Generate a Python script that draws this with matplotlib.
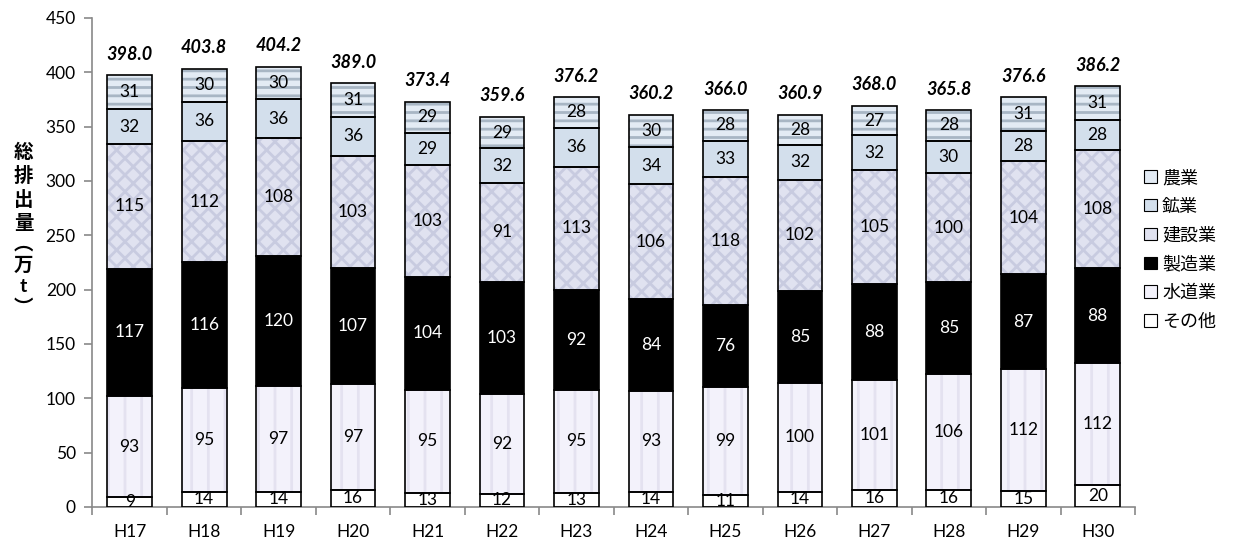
import numpy as np
import matplotlib
matplotlib.use("Agg")
import matplotlib.pyplot as plt
from matplotlib.patches import Patch

# 年度ごとの総排出量の内訳（万t）
years = ["H17", "H18", "H19", "H20", "H21", "H22", "H23",
         "H24", "H25", "H26", "H27", "H28", "H29", "H30"]
sonota = [9, 14, 14, 16, 13, 12, 13, 14, 11, 14, 16, 16, 15, 20]
suido = [93, 95, 97, 97, 95, 92, 95, 93, 99, 100, 101, 106, 112, 112]
seizo = [117, 116, 120, 107, 104, 103, 92, 84, 76, 85, 88, 85, 87, 88]
kensetsu = [115, 112, 108, 103, 103, 91, 113, 106, 118, 102, 105, 100, 104, 108]
kogyo = [32, 36, 36, 36, 29, 32, 36, 34, 33, 32, 32, 30, 28, 28]
nogyo = [31, 30, 30, 31, 29, 29, 28, 30, 28, 28, 27, 28, 31, 31]
totals = [398.0, 403.8, 404.2, 389.0, 373.4, 359.6, 376.2,
          360.2, 366.0, 360.9, 368.0, 365.8, 376.6, 386.2]

plt.rcParams["font.family"] = ["Lato", "Noto Sans CJK JP", "DejaVu Sans"]
plt.rcParams["hatch.linewidth"] = 2.0


def main():
    fig = plt.figure(figsize=(12.33, 5.41), dpi=100)
    ax = fig.add_axes([0.075, 0.063, 0.8455, 0.904])

    # (label, values, face, hatch, hatch colour, text colour)
    series = [
        ("その他", sonota, "white", None, "white", "black"),
        ("水道業", suido, "#f3f2fb", "|", "#e4e2f0", "black"),
        ("製造業", seizo, "black", None, "black", "white"),
        ("建設業", kensetsu, "#e0e2f0", "xx", "#c8cbe0", "black"),
        ("鉱業", kogyo, "#d3dfec", None, "#d3dfec", "black"),
        ("農業", nogyo, "#e3ebf4", "--", "#a8b6c4", "black"),
    ]

    x = np.arange(len(years))
    width = 0.6
    bottom = np.zeros(len(years))
    handles = []
    for label, vals, face, hatch, hcol, tcol in series:
        vals = np.array(vals, dtype=float)
        ax.bar(x, vals, width, bottom=bottom, color=face, hatch=hatch,
               edgecolor=hcol, linewidth=0, zorder=2)
        ax.bar(x, vals, width, bottom=bottom, fill=False,
               edgecolor="black", linewidth=1.2, zorder=3)
        for xi, b, v in zip(x, bottom, vals):
            ax.text(xi, b + v / 2, f"{int(v)}", ha="center", va="center",
                    fontsize=12.5, color=tcol, zorder=4)
        bottom += vals
        handles.append(Patch(facecolor=face, edgecolor="black", linewidth=0.8, label=label))

    for xi, top, t in zip(x, bottom, totals):
        ax.annotate(f"{t:.1f}", (xi, top), xytext=(0, 9), textcoords="offset points",
                    ha="center", va="bottom", fontsize=13,
                    fontweight="bold", fontstyle="italic")

    ax.set_xlim(-0.5, len(years) - 0.5)
    ax.set_ylim(0, 450)
    ax.set_yticks(np.arange(0, 451, 50))
    ax.set_xticks(x)
    ax.set_xticklabels(years)
    ax.set_xticks(np.arange(-0.5, len(years), 1), minor=True)
    ax.tick_params(axis="x", which="major", length=0, pad=12, labelsize=12.5)
    ax.tick_params(axis="x", which="minor", length=6, color="#898989", width=1.2)
    ax.tick_params(axis="y", length=6, color="#898989", width=1.2, labelsize=12.5, pad=6)

    for side in ["top", "right"]:
        ax.spines[side].set_visible(False)
    for side in ["left", "bottom"]:
        ax.spines[side].set_color("#898989")
        ax.spines[side].set_linewidth(1.2)

    fig.text(0.019, 0.575, "\n".join("総排出量︵万t︶"), ha="center", va="center",
             fontsize=14, fontweight="bold", linespacing=1.3)

    fig.legend(handles[::-1], [h.get_label() for h in handles[::-1]],
               loc="upper left", bbox_to_anchor=(0.922, 0.70), frameon=False,
               fontsize=13, handlelength=0.7, handleheight=0.7,
               handletextpad=0.3, labelspacing=0.68, borderaxespad=0)

    fig.savefig("out.png", dpi=100)


if __name__ == "__main__":
    main()
